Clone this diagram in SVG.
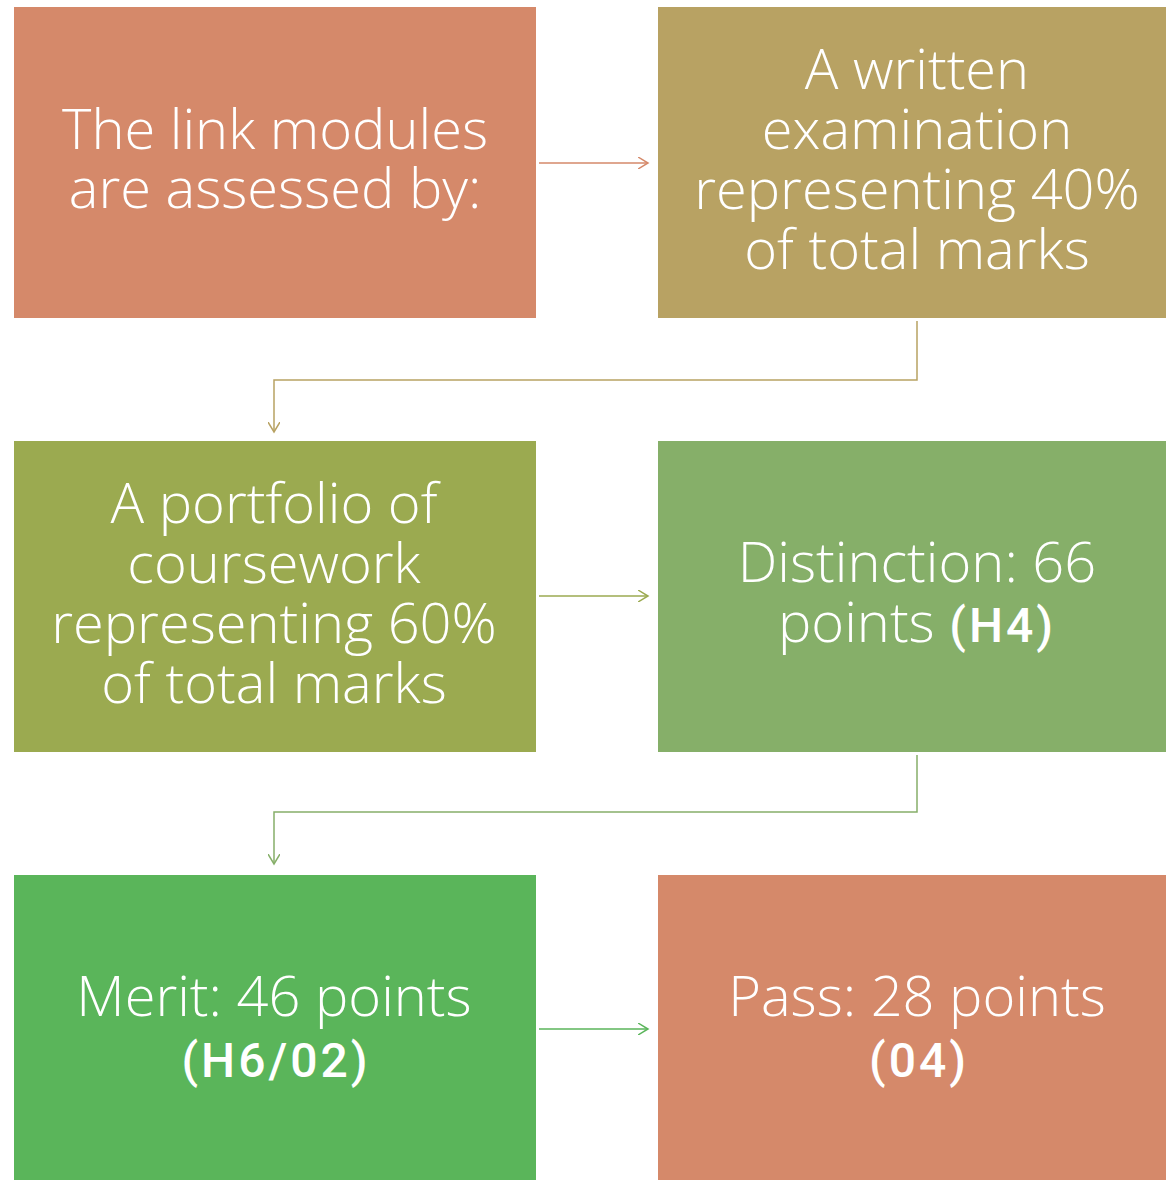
<svg xmlns="http://www.w3.org/2000/svg" width="1166" height="1180" viewBox="0 0 1166 1180">
<style>
.t{font-family:"Open Sans",Lato,sans-serif;font-weight:300;font-size:56px;fill:#fff;text-anchor:middle}
.b{font-family:Roboto,"Noto Sans",sans-serif;font-weight:500;font-size:48px;letter-spacing:3px}
.c{fill:none;stroke-width:1.5}
</style>
<defs>
<marker id="ao" markerWidth="12" markerHeight="12" refX="10" refY="6" orient="auto" markerUnits="userSpaceOnUse"><path d="M0,0 L10,6 L0,12" fill="none" stroke="#D5896A" stroke-width="1.5"/></marker>
<marker id="ay" markerWidth="12" markerHeight="12" refX="10" refY="6" orient="auto" markerUnits="userSpaceOnUse"><path d="M0,0 L10,6 L0,12" fill="none" stroke="#B8A263" stroke-width="1.5"/></marker>
<marker id="ag" markerWidth="12" markerHeight="12" refX="10" refY="6" orient="auto" markerUnits="userSpaceOnUse"><path d="M0,0 L10,6 L0,12" fill="none" stroke="#9BAA50" stroke-width="1.5"/></marker>
<marker id="am" markerWidth="12" markerHeight="12" refX="10" refY="6" orient="auto" markerUnits="userSpaceOnUse"><path d="M0,0 L10,6 L0,12" fill="none" stroke="#86AF69" stroke-width="1.5"/></marker>
<marker id="ab" markerWidth="12" markerHeight="12" refX="10" refY="6" orient="auto" markerUnits="userSpaceOnUse"><path d="M0,0 L10,6 L0,12" fill="none" stroke="#5AB55A" stroke-width="1.5"/></marker>
</defs>
<rect width="1166" height="1180" fill="#fff"/>
<g id="connectors">
<path class="c" stroke="#D5896A" d="M539,163 H648" marker-end="url(#ao)"/>
<path class="c" stroke="#B8A263" d="M917,321 V380 H274 V432" marker-end="url(#ay)"/>
<path class="c" stroke="#9BAA50" d="M539,596 H648" marker-end="url(#ag)"/>
<path class="c" stroke="#86AF69" d="M917,755 V812 H274 V864" marker-end="url(#am)"/>
<path class="c" stroke="#5AB55A" d="M539,1029 H648" marker-end="url(#ab)"/>
</g>
<g id="n1"><rect x="14" y="7" width="522" height="311" fill="#D5896A"/>
<text class="t" x="275" y="149">The link modules</text><text class="t" x="275" y="208">are assessed by:</text></g>
<g id="n2"><rect x="658" y="7" width="518" height="311" fill="#B8A263"/>
<text class="t" x="917" y="89">A written</text><text class="t" x="917" y="149">examination</text><text class="t" x="917" y="209">representing 40%</text><text class="t" x="917" y="269">of total marks</text></g>
<g id="n3"><rect x="14" y="441" width="522" height="311" fill="#9BAA50"/>
<text class="t" x="274" y="523">A portfolio of</text><text class="t" x="274" y="583">coursework</text><text class="t" x="274" y="643">representing 60%</text><text class="t" x="274" y="703">of total marks</text></g>
<g id="n4"><rect x="658" y="441" width="518" height="311" fill="#86AF69"/>
<text class="t" x="917" y="582">Distinction: 66</text><text class="t" x="917" y="642">points <tspan class="b">(H4)</tspan></text></g>
<g id="n5"><rect x="14" y="875" width="522" height="305" fill="#5AB55A"/>
<text class="t" x="274" y="1016">Merit: 46 points</text><text class="t b" x="276" y="1077">(H6/02)</text></g>
<g id="n6"><rect x="658" y="875" width="518" height="305" fill="#D5896A"/>
<text class="t" x="917" y="1016">Pass: 28 points</text><text class="t b" x="919" y="1077">(04)</text></g>
</svg>
